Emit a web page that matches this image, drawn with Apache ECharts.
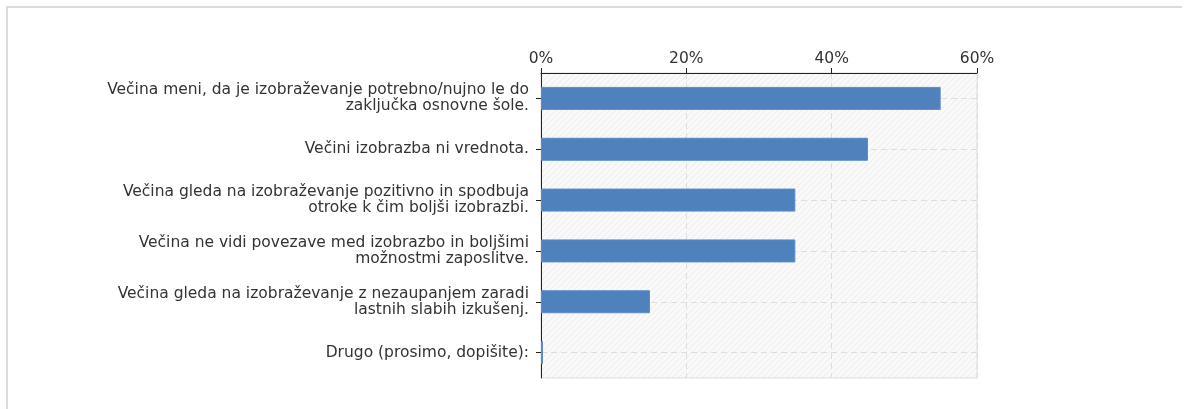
<!DOCTYPE html>
<html>
<head>
<meta charset="utf-8">
<script src="https://cdn.jsdelivr.net/npm/echarts@6/dist/echarts.min.js"></script>
<style>
    html, body { margin: 0; padding: 0; background: #fff; }
    #frame {
        position: absolute; left: 6px; top: 6px; width: 1174px; height: 403px;
        border-top: 2px solid #dcdcdc; border-left: 2px solid #dcdcdc;
    }
    #chart { position: absolute; left: 0; top: 0; width: 1187px; height: 409px; }
</style>
</head>
<body>
<div id="frame"></div>
<div id="chart"></div>
<script>
var categories = [
    'Večina meni, da je izobraževanje potrebno/nujno le do\nzaključka osnovne šole.',
    'Večini izobrazba ni vrednota.',
    'Večina gleda na izobraževanje pozitivno in spodbuja\notroke k čim boljši izobrazbi.',
    'Večina ne vidi povezave med izobrazbo in boljšimi\nmožnostmi zaposlitve.',
    'Večina gleda na izobraževanje z nezaupanjem zaradi\nlastnih slabih izkušenj.',
    'Drugo (prosimo, dopišite):'
];
var percents = [55, 45, 35, 35, 15, 0];
var xTicks = { min: 0, max: 60, interval: 20 };

// diagonal hatch for plot background
function makeHatch() {
    var c = document.createElement('canvas');
    c.width = 6;
    c.height = 6;
    var ctx = c.getContext('2d');
    ctx.fillStyle = '#f9f9f9';
    ctx.fillRect(0, 0, 6, 6);
    ctx.strokeStyle = '#ececec';
    ctx.lineWidth = 1;
    ctx.beginPath();
    ctx.moveTo(0, 6); ctx.lineTo(6, 0);
    ctx.moveTo(-1, 1); ctx.lineTo(1, -1);
    ctx.moveTo(5, 7); ctx.lineTo(7, 5);
    ctx.stroke();
    return c;
}

var chart = echarts.init(document.getElementById('chart'));
var font = "'DejaVu Sans', Verdana, sans-serif";

var option = {
    animation: false,
    grid: {
        left: 541,
        top: 73,
        right: 210,
        bottom: 31,
        show: true,
        borderColor: '#dddddd',
        borderWidth: 1,
        backgroundColor: { image: makeHatch(), repeat: 'repeat' }
    },
    xAxis: {
        type: 'value',
        position: 'top',
        min: xTicks.min,
        max: xTicks.max,
        interval: xTicks.interval,
        axisLine: { show: true, lineStyle: { color: '#222', width: 1 } },
        axisTick: { show: true, length: 5, lineStyle: { color: '#222' } },
        axisLabel: {
            formatter: '{value}%',
            color: '#333',
            fontSize: 15.5,
            fontFamily: font,
            margin: 6
        },
        splitLine: { show: true, lineStyle: { color: '#dddddd', type: [6, 4] } }
    },
    yAxis: {
        type: 'category',
        inverse: true,
        data: categories,
        axisLine: { show: true, lineStyle: { color: '#222', width: 1 } },
        axisTick: { show: true, alignWithLabel: true, length: 5, lineStyle: { color: '#222' } },
        axisLabel: {
            color: '#333',
            fontSize: 15.5,
            fontFamily: font,
            lineHeight: 16,
            align: 'right',
            margin: 12
        },
        splitLine: { show: true, alignWithLabel: true, lineStyle: { color: '#dddddd', type: [6, 4] } }
    },
    series: [
        {
            type: 'bar',
            data: percents,
            barWidth: 23,
            barMinHeight: 2,
            itemStyle: { color: '#4f81bd', borderColor: '#5b8bc6', borderWidth: 1 }
        }
    ]
};

chart.setOption(option);
</script>
</body>
</html>
